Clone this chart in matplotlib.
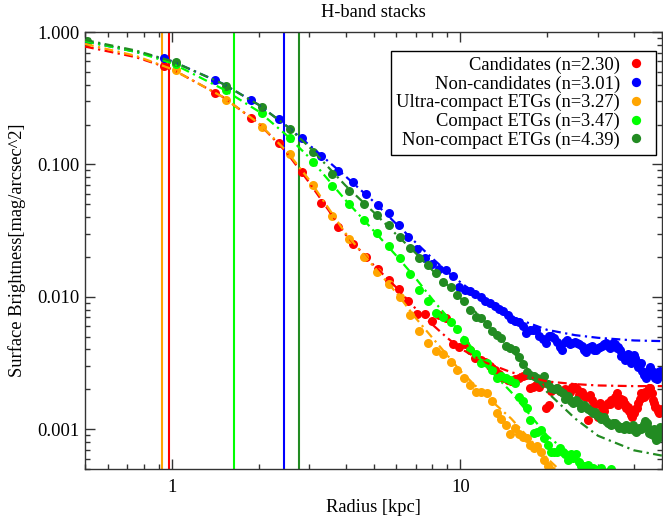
import numpy as np
import matplotlib
matplotlib.use("Agg")
import matplotlib.pyplot as plt
from matplotlib.lines import Line2D

plt.rcParams['font.family'] = ['Liberation Serif', 'DejaVu Serif']

# radial bins (kpc) of the two stack groups
r_a = [0.94, 1.41, 1.88, 2.35, 2.82, 3.29, 3.76, 4.23, 4.70, 5.17, 5.64, 6.11, 6.58, 7.05, 7.52,
       7.99, 8.46, 8.93, 9.40, 9.87, 10.34, 10.81, 11.28, 11.75, 12.22, 12.69, 13.16, 13.63, 14.10,
       14.57, 15.04, 15.51, 15.98, 16.45, 16.92, 17.39, 17.86, 18.33, 18.80, 19.27, 19.74, 20.21,
       20.68, 21.15, 21.62, 22.09, 22.56, 23.03, 23.50, 23.97, 24.44, 24.91, 25.38, 25.85, 26.32,
       26.79, 27.26, 27.73, 28.20, 28.67, 29.14, 29.61, 30.08, 30.55, 31.02, 31.49, 31.96, 32.43,
       32.90, 33.37, 33.84, 34.31, 34.78, 35.25, 35.72, 36.19, 36.66, 37.13, 37.60, 38.07, 38.54,
       39.01, 39.48, 39.95, 40.42, 40.89, 41.36, 41.83, 42.30, 42.77, 43.24, 43.71, 44.18, 44.65,
       45.12, 45.59, 46.06, 46.53, 47.00, 47.47, 47.94, 48.41, 48.88, 49.35, 49.82]
r_b = [0.51, 1.03, 1.54, 2.06, 2.57, 3.08, 3.60, 4.11, 4.63, 5.14, 5.65, 6.17, 6.68, 7.20, 7.71,
       8.22, 8.74, 9.25, 9.77, 10.28, 10.79, 11.31, 11.82, 12.34, 12.85, 13.36, 13.88, 14.39, 14.91,
       15.42, 15.93, 16.45, 16.96, 17.48, 17.99, 18.50, 19.02, 19.53, 20.05, 20.56, 21.07, 21.59,
       22.10, 22.62, 23.13, 23.64, 24.16, 24.67, 25.19, 25.70, 26.21, 26.73, 27.24, 27.76, 28.27,
       28.78, 29.30, 29.81, 30.33, 30.84, 31.35, 31.87, 32.38, 32.90, 33.41, 33.92, 34.44, 34.95,
       35.47, 35.98, 36.49, 37.01, 37.52, 38.04, 38.55, 39.06, 39.58, 40.09, 40.61, 41.12, 41.63,
       42.15, 42.66, 43.18, 43.69, 44.20, 44.72, 45.23, 45.75, 46.26, 46.77, 47.29, 47.80, 48.32,
       48.83, 49.34, 49.86]

# log10 surface brightness of each stack
cand_log = [-0.26, -0.46, -0.65, -0.84, -1.06, -1.29, -1.47, -1.60, -1.70, -1.79, -1.87, -1.94,
            -2.03, -2.13, -2.13, -2.18, -2.14, -2.16, -2.36, -2.38, -2.36, -2.40, -2.46, -2.48,
            -2.49, -2.52, -2.55,
            -2.58, -2.61, -2.63, -2.64, -2.62, -2.61, -2.60, -2.59, -2.69, -2.68, -2.67, -2.68,
            -2.65, -2.84, -2.82, -2.71, -2.70, -2.69, -2.71, -2.72, -2.70, -2.71, -2.72, -2.68,
            -2.68, -2.70, -2.74, -2.72, -2.75, -2.76, -2.93, -2.74, -2.78, -2.82, -2.88, -2.91,
            -2.80, -2.83, -2.86, -2.82, -2.80, -2.81, -2.78, -2.79, -2.76, -2.73, -2.82, -2.80,
            -2.77, -2.78, -2.81, -2.84, -2.83, -2.86, -2.89, -2.91, -2.88, -2.85, -2.84, -2.80,
            -2.77, -2.73, -2.75, -2.76, -2.72, -2.74, -2.72, -2.69, -2.69, -2.73, -2.78, -2.80,
            -2.83, -2.84, -2.86, -2.88, -2.87, -2.85]
noncand_log = [-0.20, -0.36, -0.51, -0.66, -0.80, -0.94, -1.05, -1.13, -1.22, -1.31, -1.37, -1.46,
               -1.55, -1.64, -1.71, -1.75, -1.79, -1.80, -1.84, -1.93, -1.95, -1.96, -1.98, -2.00,
               -2.03, -2.05, -2.07,
               -2.09, -2.11, -2.14, -2.17, -2.18, -2.19, -2.22, -2.27, -2.25, -2.25,
               -2.25, -2.30, -2.32, -2.35, -2.30, -2.30, -2.31, -2.34, -2.38, -2.40, -2.34, -2.33,
               -2.36, -2.35, -2.34, -2.35, -2.36, -2.37, -2.40, -2.42, -2.39, -2.38, -2.37, -2.40,
               -2.40, -2.39, -2.38, -2.37, -2.36, -2.35, -2.37, -2.39, -2.37, -2.35, -2.36, -2.39,
               -2.38, -2.40, -2.45, -2.44, -2.48, -2.46, -2.43, -2.44, -2.50, -2.47, -2.44, -2.46,
               -2.49, -2.53, -2.51, -2.50, -2.56, -2.59, -2.58, -2.61, -2.57, -2.55, -2.53, -2.56,
               -2.59, -2.58, -2.61, -2.62, -2.57, -2.60, -2.56, -2.58]
ultra_log = [-0.085, -0.29, -0.51, -0.715, -0.92, -1.156, -1.387, -1.56, -1.70, -1.81, -1.90, -2.00,
             -2.14, -2.26, -2.35, -2.41, -2.43, -2.49, -2.55, -2.61, -2.67, -2.72, -2.72, -2.73,
             -2.79, -2.88, -2.92, -2.97, -3.04, -2.99, -3.04, -3.06, -3.07, -3.12, -3.14, -3.13,
             -3.17, -3.23, -3.28, -3.31, -3.35, -3.38]
compact_log = [-0.075, -0.24, -0.44, -0.61, -0.80, -0.98, -1.16, -1.30, -1.42, -1.52, -1.62, -1.71,
               -1.83, -1.95, -2.03, -2.12, -2.15, -2.19, -2.24, -2.33, -2.40, -2.43, -2.50, -2.50,
               -2.55, -2.61, -2.60, -2.61, -2.63, -2.65, -2.755, -2.79, -2.84, -2.93, -3.03, -3.02,
               -3.01, -3.07, -3.12, -3.17, -3.17, -3.17, -3.14, -3.17, -3.19, -3.23, -3.19, -3.22,
               -3.19, -3.245, -3.28, -3.28, -3.30, -3.27, -3.32, -3.29, -3.35, -3.31, -3.36, -3.29,
               -3.34, -3.37, -3.32, -3.38, -3.30, -3.36, -3.40]
noncomp_log = [-0.07, -0.23, -0.405, -0.57, -0.735, -0.91, -1.07, -1.20, -1.30, -1.38, -1.46, -1.55,
               -1.63, -1.705, -1.76, -1.82, -1.885, -1.93, -1.99, -2.03, -2.10, -2.15, -2.16, -2.205,
               -2.255, -2.29, -2.31, -2.37, -2.39, -2.40, -2.455, -2.51, -2.565, -2.59, -2.60, -2.615,
               -2.62, -2.60, -2.66, -2.69, -2.70, -2.69, -2.71, -2.73, -2.77, -2.75, -2.79, -2.80,
               -2.78, -2.80, -2.84, -2.82, -2.83, -2.85, -2.86, -2.88, -2.87, -2.89, -2.90, -2.92,
               -2.91, -2.94, -2.95, -2.96, -2.97, -2.95, -2.955, -2.97, -2.99, -2.98, -2.98, -3.00,
               -2.97, -2.99, -3.00, -2.98, -2.97, -3.01, -3.02, -3.01, -2.99, -3.00, -2.99, -2.96,
               -2.94, -2.95, -2.99, -3.03, -3.04, -3.04, -3.00, -3.06, -3.08, -3.07, -3.03, -2.98,
               -3.02]

# Sersic fits (log10), sampled at these radii
fit_r = [0.5, 0.75, 1, 1.5, 2, 2.5, 3, 4, 5, 6, 7, 8, 9, 10, 12, 15, 20, 25, 30, 40, 50]
cand_fit = [-0.11, -0.19, -0.28, -0.49, -0.69, -0.91, -1.14, -1.53, -1.76, -1.93, -2.09, -2.21,
            -2.31, -2.39, -2.49, -2.57, -2.64, -2.66, -2.67, -2.675, -2.675]
noncand_fit = [-0.07, -0.15, -0.22, -0.39, -0.55, -0.71, -0.855, -1.09, -1.28, -1.45, -1.59, -1.71,
               -1.81, -1.89, -2.02, -2.15, -2.25, -2.29, -2.31, -2.33, -2.335]
ultra_fit = [-0.09, -0.18, -0.28, -0.49, -0.69, -0.90, -1.12, -1.52, -1.77, -1.97, -2.16, -2.31,
             -2.44, -2.56, -2.73, -2.92, -3.22, -3.42, -3.60, -3.90, -4.10]
compact_fit = [-0.07, -0.15, -0.235, -0.43, -0.60, -0.78, -0.95, -1.27, -1.50, -1.69, -1.86, -2.02,
               -2.15, -2.27, -2.50, -2.72, -3.05, -3.22, -3.30, -3.40, -3.46]
noncomp_fit = [-0.06, -0.14, -0.22, -0.39, -0.55, -0.71, -0.87, -1.16, -1.36, -1.53, -1.67, -1.80,
               -1.91, -2.01, -2.17, -2.40, -2.72, -2.92, -3.05, -3.16, -3.20]

# effective radii (kpc)
re_cand, re_noncand, re_ultra, re_compact, re_noncomp = 0.981, 2.44, 0.925, 1.637, 2.76

labels = ['Candidates (n=2.30)', 'Non-candidates (n=3.01)', 'Ultra-compact ETGs (n=3.27)',
          'Compact ETGs (n=3.47)', 'Non-compact ETGs (n=4.39)']
colors = ['#ff0000', '#0000ff', '#ffa500', '#00ff00', '#228b22']

series = [(r_a, cand_log, cand_fit, re_cand),
          (r_a, noncand_log, noncand_fit, re_noncand),
          (r_b, ultra_log, ultra_fit, re_ultra),
          (r_b, compact_log, compact_fit, re_compact),
          (r_b, noncomp_log, noncomp_fit, re_noncomp)]

fig = plt.figure(figsize=(6.63, 5.16), dpi=100)
ax = fig.add_axes([85 / 663, 47 / 516, 577 / 663, 437 / 516])
ax.set_xscale('log')
ax.set_yscale('log')

handles = []
for (r, lg, fit, re), col, lab in zip(series, colors, labels):
    ax.axvline(re, color=col, lw=1.5, zorder=1)
    v = 10 ** np.array(lg)
    ax.plot(r[:len(v)], v, 'o', color=col, ms=6.5, mew=0, zorder=2)
    ax.plot(fit_r, 10 ** np.array(fit), color=col, lw=1.6, ls=(0, (4, 2, 1, 2)), zorder=3)
    handles.append(Line2D([], [], ls='none', marker='o', color=col, ms=6.7, mew=0, label=lab))

ax.set_xlim(0.5, 50)
ax.set_ylim(5e-4, 1.0)

x_ticks = [1, 10]
x_ticklabels = ['1', '10']
y_ticks = [0.001, 0.01, 0.1, 1.0]
y_ticklabels = ['0.001', '0.010', '0.100', '1.000']
ax.set_xticks(x_ticks)
ax.set_xticklabels(x_ticklabels)
ax.set_yticks(y_ticks)
ax.set_yticklabels(y_ticklabels)

ax.tick_params(which='both', direction='in', top=True, right=True, color='#333333')
ax.tick_params(which='major', length=7.5, width=1, labelsize=13.3)
ax.tick_params(which='minor', length=3.5, width=1)
ax.tick_params(axis='x', which='major', pad=7)
ax.tick_params(axis='y', which='major', pad=4)
for s in ax.spines.values():
    s.set_color('#333333')
    s.set_linewidth(1)

ax.set_title('H-band stacks', fontsize=13.3, pad=11)
ax.set_xlabel('Radius [kpc]', fontsize=13.3, labelpad=2)
ax.set_ylabel('Surface Brightness[mag/arcsec^2]', fontsize=13.3, labelpad=8)

leg = ax.legend(handles=handles, loc='upper right', bbox_to_anchor=(0.9896, 0.9565),
                borderaxespad=0, markerfirst=False, fontsize=13.3, handlelength=1.6,
                handletextpad=0.05, labelspacing=0.08, borderpad=0.3, fancybox=False,
                framealpha=1, edgecolor='black')
leg.get_frame().set_linewidth(1)

fig.savefig('out.png', dpi=100)
